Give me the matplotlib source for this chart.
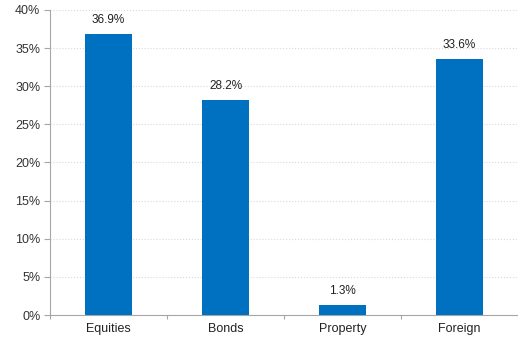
import numpy as np
import matplotlib.pyplot as plt
from matplotlib.ticker import PercentFormatter

categories = ["Equities", "Bonds", "Property", "Foreign"]
values = [36.9, 28.2, 1.3, 33.6]

plt.rcParams['font.family'] = ['Liberation Sans', 'DejaVu Sans']

fig = plt.figure(figsize=(5.18, 3.37), dpi=100)
ax = fig.add_axes([50/518, 22/337, 468/518, 305/337])

x = np.arange(len(categories))
bars = ax.bar(x, values, width=0.4, color="#0070C0", zorder=3)

for xi, v in zip(x, values):
    ax.text(xi, v + 1.0, f"{v:.1f}%", ha="center", va="bottom", fontsize=8.5, color="#222222")

ax.set_ylim(0, 40)
ax.set_yticks(np.arange(0, 41, 5))
ax.yaxis.set_major_formatter(PercentFormatter(decimals=0))
ax.set_xlim(-0.5, 3.47)

# category boundary ticks, labels in between
ax.set_xticks(np.arange(-0.5, 4, 1.0))
ax.set_xticklabels([])
ax.set_xticks(x, minor=True)
ax.set_xticklabels(categories, minor=True)
ax.tick_params(axis="x", which="minor", length=0, pad=6, labelsize=9, labelcolor="#222222")
ax.tick_params(axis="x", which="major", length=3, color="#A6A6A6", direction="out")
ax.tick_params(axis="y", length=4, color="#A6A6A6", labelsize=9, labelcolor="#333333", pad=3)

ax.grid(axis="y", color="#D9D9D9", linestyle=":", linewidth=0.8, zorder=0)
for s in ["top", "right"]:
    ax.spines[s].set_visible(False)
for s in ["left", "bottom"]:
    ax.spines[s].set_color("#A6A6A6")

fig.savefig("out.png", dpi=100)
